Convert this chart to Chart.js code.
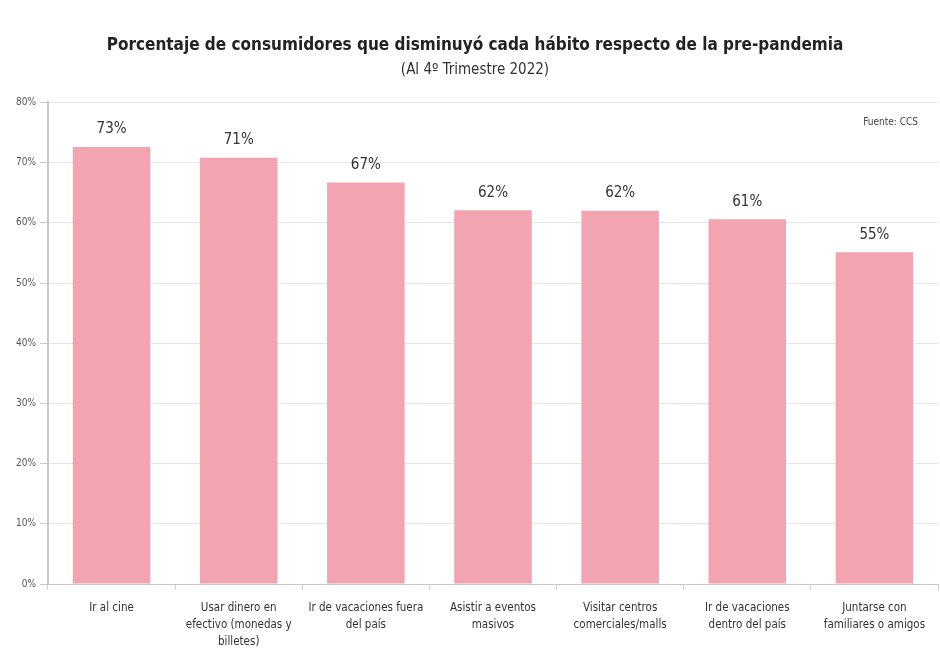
<!DOCTYPE html>
<html>
<head>
<meta charset="utf-8">
<script src="https://cdn.jsdelivr.net/npm/chart.js@4"></script>
<style>
  html, body { margin: 0; padding: 0; background: #fff; }
  #wrap { width: 940px; height: 654px; position: relative; }
</style>
</head>
<body>
<div id="wrap"><canvas id="habitChart"></canvas></div>
<script>
var CATEGORIES = [
    ['Ir al cine'],
    ['Usar dinero en', 'efectivo (monedas y', 'billetes)'],
    ['Ir de vacaciones fuera', 'del país'],
    ['Asistir a eventos', 'masivos'],
    ['Visitar centros', 'comerciales/malls'],
    ['Ir de vacaciones', 'dentro del país'],
    ['Juntarse con', 'familiares o amigos']
];
var VALUES = [72.6, 70.8, 66.7, 62.1, 62.0, 60.6, 55.1];
var VALUE_LABELS = ['73%', '71%', '67%', '62%', '62%', '61%', '55%'];
var Y_TICKS = [0, 10, 20, 30, 40, 50, 60, 70, 80];

var FONT = '"DejaVu Sans Condensed", "Liberation Sans Narrow", "Liberation Sans", sans-serif';
var BAR_PINK = '#F3A4B1';

// draws value labels above each bar and the source note
var barLabels = {
    id: 'barLabels',
    afterDatasetsDraw: function(chart) {
        var ctx = chart.ctx;
        var meta = chart.getDatasetMeta(0);
        ctx.save();
        ctx.font = '15px ' + FONT;
        ctx.fillStyle = '#333';
        ctx.textAlign = 'center';
        ctx.textBaseline = 'bottom';
        meta.data.forEach(function(bar, i) {
            ctx.fillText(VALUE_LABELS[i], bar.x, bar.y - 10);
        });
        var area = chart.chartArea;
        ctx.font = '10px ' + FONT;
        ctx.fillStyle = '#444';
        ctx.textAlign = 'right';
        ctx.textBaseline = 'middle';
        ctx.fillText('Fuente: CCS', area.right - 20, area.top + 20);
        ctx.restore();
    }
};

new Chart(document.getElementById('habitChart'), {
    type: 'bar',
    data: {
        labels: CATEGORIES,
        datasets: [{
            data: VALUES,
            backgroundColor: BAR_PINK,
            barPercentage: 0.61,
            categoryPercentage: 1
        }]
    },
    options: {
        responsive: true,
        maintainAspectRatio: false,
        animation: false,
        layout: { padding: { left: 12, right: 2, top: 0, bottom: 0 } },
        plugins: {
            legend: { display: false },
            tooltip: { enabled: false },
            title: {
                display: true,
                text: 'Porcentaje de consumidores que disminuyó cada hábito respecto de la pre-pandemia',
                color: '#222',
                font: { family: FONT, size: 17, weight: 'bold' },
                padding: { top: 35, bottom: 6 }
            },
            subtitle: {
                display: true,
                text: '(Al 4º Trimestre 2022)',
                color: '#333',
                font: { family: FONT, size: 15 },
                padding: { top: 0, bottom: 23 }
            }
        },
        scales: {
            x: {
                afterFit: function(scale) { scale.height = 70; },
                grid: { display: true, drawOnChartArea: false, drawTicks: true, tickLength: 6, color: '#d0d0d0', offset: true },
                border: { color: '#c8c8c8', width: 1 },
                ticks: { color: '#333', font: { family: FONT, size: 11.5, lineHeight: 1.5 }, maxRotation: 0, autoSkip: false, padding: 9 }
            },
            y: {
                min: 0,
                max: 80,
                afterBuildTicks: function(axis) {
                    axis.ticks = Y_TICKS.map(function(v) { return { value: v }; });
                },
                grid: { color: '#e6e6e6', tickLength: 8, tickColor: '#c8c8c8' },
                border: { color: '#c8c8c8', width: 2 },
                ticks: {
                    color: '#555',
                    font: { family: FONT, size: 10 },
                    padding: 4,
                    callback: function(v) { return v + '%'; }
                }
            }
        }
    },
    plugins: [barLabels]
});
</script>
</body>
</html>
